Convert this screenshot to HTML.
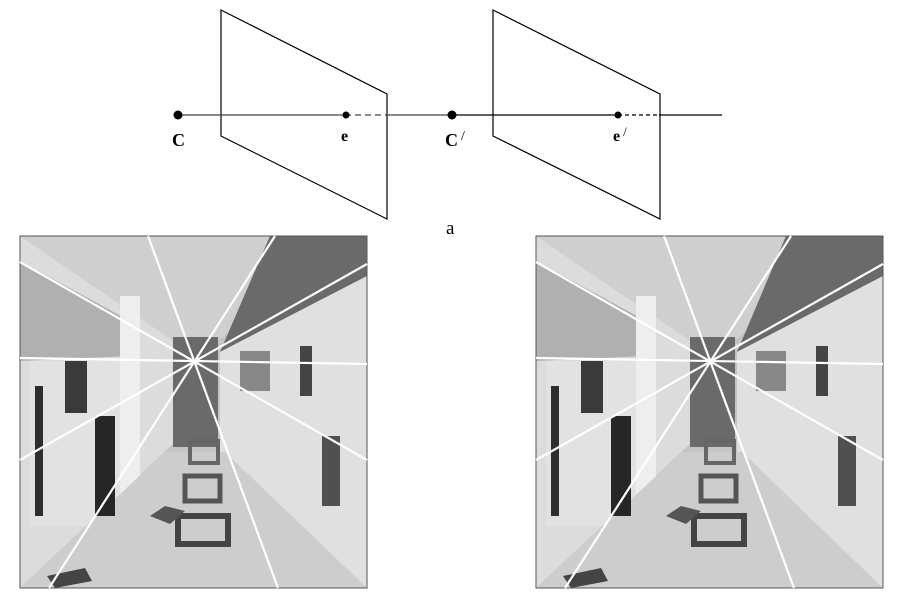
<!DOCTYPE html>
<html><head><meta charset="utf-8"><style>
html,body{margin:0;padding:0;background:#fff;}
svg{display:block;}
</style></head><body>
<svg id="fig" width="899" height="600" viewBox="0 0 899 600" xmlns="http://www.w3.org/2000/svg">
  <g stroke="#000" fill="none" stroke-width="1.2">
    <polygon points="221,10 387,94 387,219 221,136"/>
    <polygon points="493,10 660,94 660,219 493,136"/>
    <line x1="178" y1="115" x2="345" y2="115" stroke="#444"/>
    <line x1="345" y1="115" x2="387" y2="115" stroke-dasharray="6,4" stroke="#444"/>
    <line x1="387" y1="115" x2="452" y2="115" stroke="#444"/>
    <line x1="452" y1="115" x2="618" y2="115"/>
    <line x1="618" y1="115" x2="659" y2="115" stroke-dasharray="4,3"/>
    <line x1="659" y1="115" x2="722" y2="115"/>
  </g>
  <g fill="#000">
    <circle cx="178" cy="115" r="4.5"/>
    <circle cx="346" cy="115" r="3.5"/>
    <circle cx="452" cy="115" r="4.5"/>
    <circle cx="618" cy="115" r="3.5"/>
  </g>
  <g font-family="Liberation Serif, serif" font-weight="bold" fill="#000">
    <text x="172" y="146" font-size="18">C</text>
    <text x="341" y="141" font-size="16">e</text>
    <text x="445" y="146" font-size="18">C<tspan font-weight="normal" font-size="14" dx="3" dy="-6">/</tspan></text>
    <text x="613" y="141" font-size="16">e<tspan font-weight="normal" font-size="13" dx="3" dy="-5">/</tspan></text>
  </g>
  <text x="446" y="234" font-family="Liberation Serif, serif" font-size="19">a</text>
  <g id="photos"></g>
</svg>
<script>
const photoOrigins = [[20,236],[536,236]];
const epipoles = [[195,362],[712,362]];
// epipolar line endpoint pairs, relative to each photo (local coords)
const lineStarts = [[128,0],[255,0],[0,26],[0,122],[0,224]];
const lineEnds = [[258,352],[29,352],[347,224],[347,128],[347,28]];
const NS='http://www.w3.org/2000/svg';
const root=document.getElementById('photos');
function el(tag,attrs,parent){const e=document.createElementNS(NS,tag);for(const k in attrs)e.setAttribute(k,attrs[k]);parent.appendChild(e);return e;}
photoOrigins.forEach((o,i)=>{
  const g=el('g',{transform:`translate(${o[0]},${o[1]})`},root);
  
  
  const ex=epipoles[i][0]-o[0], ey=epipoles[i][1]-o[1];
  el('rect',{x:0,y:0,width:347,height:352,fill:'#c4c4c4'},g);
  el('polygon',{points:`0,0 347,0 ${ex+20},${ey-20} ${ex-20},${ey-20}`,fill:'#cfcfcf'},g);
  el('polygon',{points:`250,0 347,0 347,40 ${ex+25},${ey-10}`,fill:'#6a6a6a'},g);
  el('polygon',{points:`0,0 ${ex-20},${ey-20} ${ex-20},${ey+80} 0,352`,fill:'#dcdcdc'},g);
  el('polygon',{points:`0,25 110,85 110,120 0,125`,fill:'#b0b0b0'},g);
  el('rect',{x:10,y:125,width:100,height:165,fill:'#e2e2e2'},g);
  el('rect',{x:100,y:60,width:20,height:240,fill:'#eeeeee'},g);
  el('polygon',{points:`347,40 ${ex+25},${ey-10} ${ex+25},${ey+90} 347,352`,fill:'#e0e0e0'},g);
  el('polygon',{points:`0,352 347,352 ${ex+30},${ey+90} ${ex-30},${ey+90}`,fill:'#cdcdcd'},g);
  el('rect',{x:ex-22,y:ey-25,width:45,height:110,fill:'#6a6a6a'},g);
  el('rect',{x:15,y:150,width:8,height:130,fill:'#2e2e2e'},g);
  el('rect',{x:75,y:180,width:20,height:100,fill:'#262626'},g);
  el('rect',{x:45,y:125,width:22,height:52,fill:'#3a3a3a'},g);
  el('rect',{x:280,y:110,width:12,height:50,fill:'#444'},g);
  el('rect',{x:302,y:200,width:18,height:70,fill:'#505050'},g);
  el('rect',{x:220,y:115,width:30,height:40,fill:'#888'},g);
  el('rect',{x:158,y:280,width:50,height:28,fill:'none',stroke:'#444','stroke-width':6},g);
  el('rect',{x:165,y:240,width:35,height:25,fill:'none',stroke:'#555','stroke-width':5},g);
  el('rect',{x:170,y:205,width:28,height:22,fill:'none',stroke:'#666','stroke-width':4},g);
  el('polygon',{points:'130,280 145,270 165,275 150,288',fill:'#555'},g);
  el('polygon',{points:'27,340 65,332 72,345 35,352',fill:'#444'},g);
  el('rect',{x:0,y:0,width:347,height:352,fill:'none',stroke:'#555','stroke-width':1},g);
  lineStarts.forEach((s,k)=>{
    const e=lineEnds[k];
    const ln=el('line',{x1:s[0],y1:s[1],x2:e[0],y2:e[1],stroke:'#fff','stroke-width':2.2},g);
    
    
  });
});
</script>
</body></html>
